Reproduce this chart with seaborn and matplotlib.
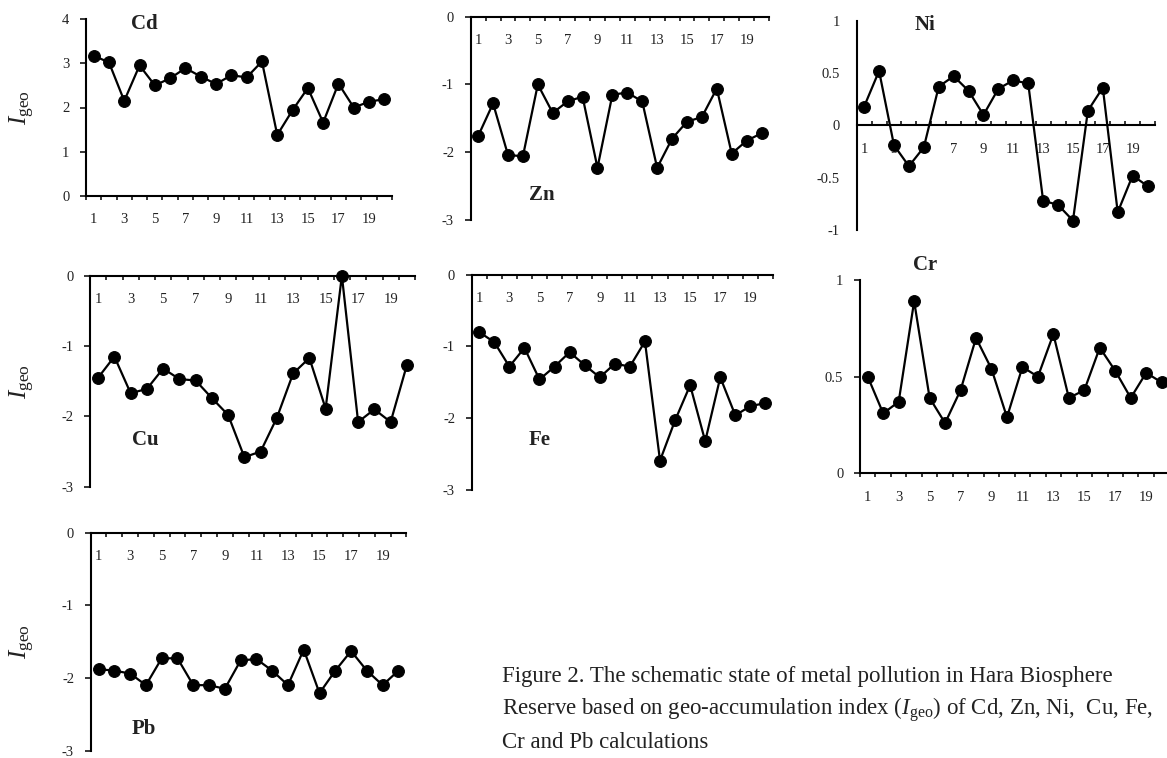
import numpy as np
import pandas as pd
import matplotlib
matplotlib.use("Agg")
import matplotlib.pyplot as plt
import seaborn as sns

# ---------------- data ----------------
sites = list(range(1, 21))
cd = [3.17, 3.02, 2.15, 2.95, 2.50, 2.66, 2.89, 2.70, 2.53, 2.73, 2.68, 3.04, 1.38, 1.94, 2.44, 1.66, 2.54, 2.00, 2.13, 2.19]
zn = [-1.76, -1.28, -2.04, -2.06, -1.00, -1.42, -1.25, -1.18, -2.23, -1.15, -1.12, -1.25, -2.23, -1.80, -1.55, -1.48, -1.06, -2.02, -1.83, -1.72]
ni = [0.18, 0.52, -0.19, -0.39, -0.21, 0.37, 0.47, 0.33, 0.10, 0.35, 0.43, 0.40, -0.72, -0.76, -0.91, 0.14, 0.36, -0.83, -0.48, -0.58]
cu = [-1.45, -1.15, -1.67, -1.61, -1.32, -1.47, -1.49, -1.74, -1.98, -2.58, -2.50, -2.02, -1.39, -1.17, -1.89, 0.00, -2.08, -1.90, -2.08, -1.27]
fe = [-0.80, -0.94, -1.28, -1.02, -1.46, -1.28, -1.08, -1.26, -1.43, -1.24, -1.28, -0.93, -2.59, -2.03, -1.54, -2.32, -1.43, -1.96, -1.83, -1.79]
cr = [0.50, 0.31, 0.37, 0.89, 0.39, 0.26, 0.43, 0.70, 0.54, 0.29, 0.55, 0.50, 0.72, 0.39, 0.43, 0.65, 0.53, 0.39, 0.52, 0.47]
pb = [-1.88, -1.90, -1.94, -2.10, -1.73, -1.73, -2.10, -2.10, -2.15, -1.76, -1.74, -1.90, -2.10, -1.61, -2.21, -1.90, -1.63, -1.90, -2.10, -1.90]

x_labels = ["1", "3", "5", "7", "9", "11", "13", "15", "17", "19"]
yt_cd = ["0", "1", "2", "3", "4"]
yt_neg = ["-3", "-2", "-1", "0"]
yt_ni = ["-1", "-0.5", "0", "0.5", "1"]
yt_cr = ["0", "0.5", "1"]

caption = [
    "Figure 2. The schematic state of metal pollution in Hara Biosphere",
    r"Reserve based on geo-accumulation index ($I_{\rm geo}$) of Cd, Zn, Ni,  Cu, Fe,",
    "Cr and Pb calculations",
]

# ---------------- style ----------------
sns.set_theme(style="white")
plt.rcParams["font.family"] = ["Liberation Serif", "DejaVu Serif"]
plt.rcParams["mathtext.fontset"] = "custom"
plt.rcParams["mathtext.rm"] = "Liberation Serif"
plt.rcParams["mathtext.it"] = "Liberation Serif:italic"

W, H = 1167, 758
fig = plt.figure(figsize=(W / 100, H / 100), dpi=100)
fig.patch.set_facecolor("white")


def box(l, r, t, b):
    return [l / W, 1 - b / H, (r - l) / W, (b - t) / H]


panels = [
    # name, values, ylim, yticklabels, box px, label pos px, xdir, ylen, ylabel, spine at 0
    ("Cd", cd, (0, 4), yt_cd, (86, 392, 19, 196), (144, 24), "out", 4, True, False),
    ("Zn", zn, (-3, 0), yt_neg, (470.7, 769, 16.7, 220), (542, 195), "out", 4, False, True),
    ("Ni", ni, (-1, 1), yt_ni, (856.7, 1155, 20.7, 230), (925, 25), "in", 0, False, True),
    ("Cu", cu, (-3, 0), yt_neg, (90, 415, 275.7, 486.7), (145, 440), "out", 4, True, True),
    ("Fe", fe, (-3, 0), yt_neg, (471.7, 773, 274.7, 490), (540, 440), "out", 4, False, True),
    ("Cr", cr, (0, 1), yt_cr, (860, 1169.4, 280, 473.3), (925, 265), "out", 4, False, False),
    ("Pb", pb, (-3, 0), yt_neg, (90.7, 406.3, 532.7, 750.5), (144, 729), "out", 4, True, True),
]

for name, vals, ylim, ytl, bx, lpos, xdir, ylen, has_ylabel, spine0 in panels:
    ax = fig.add_axes(box(*bx))
    ax.set_facecolor("none")
    df = pd.DataFrame({"site": sites, "igeo": vals})
    sns.lineplot(data=df, x="site", y="igeo", ax=ax, color="black", marker="o",
                 markersize=8.5, linewidth=1.6, markeredgecolor="black",
                 markerfacecolor="black", zorder=3, clip_on=False)
    ax.set_xlim(0.5, 20.5)
    ax.set_ylim(*ylim)
    ax.set_xlabel("")
    ax.set_ylabel("")
    for s in ("top", "right"):
        ax.spines[s].set_visible(False)
    for s in ("left", "bottom"):
        ax.spines[s].set_color("black")
        ax.spines[s].set_linewidth(1.5)
    if spine0:
        ax.spines["bottom"].set_position(("data", 0))
    # category boundary ticks (major), labels at odd sites (minor)
    ax.set_xticks(np.arange(0.5, 21, 1))
    ax.set_xticklabels([])
    ax.set_xticks([int(v) for v in x_labels], minor=True)
    ax.set_xticklabels(x_labels, minor=True)
    ax.tick_params(axis="x", which="major", direction=xdir, length=3.2, width=1.1,
                   color="black", bottom=True)
    ax.tick_params(axis="x", which="minor", length=0, pad=12.5, labelsize=10.5,
                   labelcolor="#222222", bottom=True)
    yv = [float(t) for t in ytl]
    ax.set_yticks(yv)
    ax.set_yticklabels(ytl)
    ax.tick_params(axis="y", which="major", direction="out", length=ylen, width=1.1,
                   color="black", left=True, pad=8 + (4 - ylen), labelsize=10.5,
                   labelcolor="#222222")
    ax.grid(False)
    fig.text(lpos[0] / W, 1 - lpos[1] / H, name, ha="center", va="center",
             fontsize=15, fontweight="bold", color="#222222")
    if has_ylabel:
        cy = (bx[2] + bx[3]) / 2
        fig.text(22 / W, 1 - cy / H, r"$I_{\rm geo}$", rotation=90, ha="center",
                 va="center", fontsize=18, color="#222222")

for i, line in enumerate(caption):
    fig.text(502 / W, 1 - (681.7 + 33 * i) / H, line, ha="left", va="baseline",
             fontsize=16.5, color="#222222")

fig.savefig("out.png", dpi=100, facecolor="white")
